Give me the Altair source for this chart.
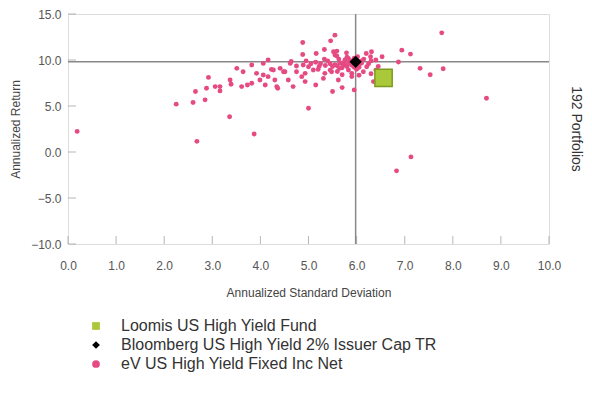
import altair as alt
import pandas as pd

# ---- data ----
series_names = ["Loomis US High Yield Fund",
                "Bloomberg US High Yield 2% Issuer Cap TR",
                "eV US High Yield Fixed Inc Net"]
series_colors = ["#a9c93a", "#000000", "#e64a82"]
series_shapes = ["square", "diamond", "circle"]

fund_sd = [6.56]
fund_ret = [8.05]
bench_sd = [5.98]
bench_ret = [9.8]

peer_sd = [0.19, 2.68, 3.87, 3.36, 5.0, 6.83, 7.13, 8.7, 7.77, 6.94, 7.12, 6.87, 7.32, 7.53, 7.8,
           5.95, 5.5, 5.7, 5.15, 5.55, 5.46, 4.88, 6.53, 6.31, 6.2, 6.29, 5.59, 5.55, 6.49, 6.35,
           6.14, 6.21, 2.25, 2.6, 2.85, 2.65, 2.88, 2.92, 3.06, 3.16, 3.16, 3.37, 3.39, 3.51, 3.64,
           3.61, 3.73, 3.82, 3.82, 3.92, 3.99, 4.06, 4.1, 4.06, 4.16, 4.23, 4.41, 4.51, 4.3, 4.16,
           4.58, 4.36, 4.68, 4.64, 4.75, 4.89, 5.0, 5.1, 5.2, 5.34, 5.48, 5.65, 5.76, 5.83, 4.86,
           5.31, 5.62, 4.93, 5.9, 5.86, 5.76, 5.83, 4.88, 5.16, 5.33, 5.52, 5.79, 5.59, 5.33, 5.63,
           4.27, 4.48, 4.62, 4.75, 4.93, 4.34,
           5.7, 5.8, 5.9, 6.05, 6.1, 6.15, 5.95, 6.0, 5.85, 5.75, 5.65, 5.55, 5.5, 5.45, 5.4, 5.6,
           5.7, 6.05, 6.25, 6.3, 6.4, 6.1, 5.9, 5.95, 6.02, 5.8, 5.35, 5.25, 5.15, 5.05, 4.95, 5.22,
           6.45, 6.4, 6.3, 6.05, 5.9, 5.7, 5.6, 5.45]
peer_ret = [2.24, 1.16, 1.95, 3.83, 4.75, -2.05, -0.53, 5.84, 12.95, 11.07, 10.64, 9.78, 9.09, 8.4, 9.05,
            6.75, 6.57, 7.0, 7.29, 12.7, 12.08, 11.9, 10.35, 10.9, 10.7, 10.35, 10.97, 10.53, 8.19, 7.65,
            8.73, 9.27, 5.2, 5.38, 5.67, 6.57, 6.93, 8.11, 7.11, 7.11, 6.64, 7.83, 7.36, 9.09, 8.73,
            7.11, 7.29, 7.47, 9.45, 8.55, 7.83, 8.37, 7.29, 9.63, 10.0, 8.98, 9.09, 8.73, 7.83, 8.19,
            7.83, 6.93, 7.11, 9.84, 9.35, 9.45, 9.27, 8.91, 8.98, 8.55, 8.73, 9.09, 9.45, 8.91, 8.19,
            8.0, 7.83, 7.65, 8.55, 9.63, 10.0, 10.17, 10.6, 10.71, 11.14, 10.89, 10.78, 10.43, 10.1, 10.1,
            8.91, 8.73, 9.63, 8.73, 8.55, 7.11,
            9.6, 9.3, 9.9, 9.5, 9.9, 10.1, 9.2, 9.0, 9.75, 9.85, 9.7, 9.5, 9.3, 9.6, 9.9, 9.35,
            9.15, 9.2, 9.6, 9.9, 10.0, 9.65, 9.45, 10.2, 10.35, 10.3, 9.4, 9.6, 9.75, 9.6, 9.9, 9.3,
            9.3, 8.9, 8.5, 8.35, 8.2, 8.4, 8.75, 8.9]

x_ticks = [0, 1, 2, 3, 4, 5, 6, 7, 8, 9, 10]
y_ticks = [-10, -5, 0, 5, 10, 15]
universe_label = ["192 Portfolios"]

W, H = 481, 230
FONT = "Liberation Sans"

peer_df = pd.DataFrame({"sd": peer_sd, "ret": peer_ret, "series": series_names[2]})
fund_df = pd.DataFrame({"sd": fund_sd, "ret": fund_ret, "series": series_names[0]})
bench_df = pd.DataFrame({"sd": bench_sd, "ret": bench_ret, "series": series_names[1]})

xscale = alt.Scale(domain=[0, 10], nice=False, zero=False)
yscale = alt.Scale(domain=[-10, 15], nice=False, zero=False)

xaxis = alt.Axis(values=x_ticks, format=".1f", title="Annualized Standard Deviation",
                 ticks=False, domain=False, grid=False, labelPadding=16, labelFlush=False,
                 labelFontSize=12, labelColor="#555", labelFont=FONT,
                 titleFontSize=12, titleColor="#444", titleFont=FONT, titleFontWeight="normal",
                 titlePadding=16)
yaxis = alt.Axis(values=y_ticks, format=".1f", title="Annualized Return",
                 ticks=False, domain=False, grid=False, labelPadding=7, labelFlush=False,
                 labelFontSize=12, labelColor="#555", labelFont=FONT,
                 titleFontSize=12, titleColor="#444", titleFont=FONT, titleFontWeight="normal",
                 titlePadding=8)

legend = alt.Legend(orient="none", legendX=20, legendY=304, title=None,
                    labelFontSize=16, labelFont=FONT, labelColor="#333", labelLimit=600,
                    symbolSize=60, rowPadding=3, labelOffset=17, symbolStrokeWidth=0)

color_enc = alt.Color("series:N", scale=alt.Scale(domain=series_names, range=series_colors), legend=legend)
shape_enc = alt.Shape("series:N", scale=alt.Scale(domain=series_names, range=series_shapes), legend=legend)

peers = alt.Chart(peer_df).mark_point(filled=True, size=24, opacity=1).encode(
    x=alt.X("sd:Q", scale=xscale, axis=xaxis),
    y=alt.Y("ret:Q", scale=yscale, axis=yaxis),
    color=color_enc, shape=shape_enc)

hrule = alt.Chart(bench_df).mark_rule(color="#888", strokeWidth=1.5).encode(
    y=alt.Y("ret:Q", scale=yscale))
vrule = alt.Chart(bench_df).mark_rule(color="#888", strokeWidth=1.5).encode(
    x=alt.X("sd:Q", scale=xscale))

fund = alt.Chart(fund_df).mark_point(filled=True, size=300, opacity=1,
                                     stroke="#7f9a22", strokeWidth=1.5).encode(
    x=alt.X("sd:Q", scale=xscale), y=alt.Y("ret:Q", scale=yscale),
    color=color_enc, shape=shape_enc)

bench = alt.Chart(bench_df).mark_point(filled=True, size=150, opacity=1).encode(
    x=alt.X("sd:Q", scale=xscale), y=alt.Y("ret:Q", scale=yscale),
    color=color_enc, shape=shape_enc)

ytick_marks = alt.Chart(pd.DataFrame({"v": y_ticks})).mark_tick(
    color="#999", size=8, thickness=1, orient="horizontal").encode(
    y=alt.Y("v:Q", scale=yscale), x=alt.value(4))
xtick_marks = alt.Chart(pd.DataFrame({"v": x_ticks})).mark_tick(
    color="#999", size=8, thickness=1, orient="vertical").encode(
    x=alt.X("v:Q", scale=xscale), y=alt.value(H - 4))

side = alt.Chart(pd.DataFrame({"t": universe_label})).mark_text(
    angle=90, fontSize=14, font=FONT, color="#333", baseline="middle", align="center").encode(
    x=alt.value(W + 27), y=alt.value(H / 2), text="t:N")

chart = alt.layer(ytick_marks, xtick_marks, hrule, vrule, peers, fund, bench, side).properties(
    width=W, height=H,
    autosize=alt.AutoSizeParams(type="none"),
    padding={"left": 60, "top": 6, "right": 35, "bottom": 150},
).configure_view(stroke="#aaaaaa", strokeWidth=2).configure(background="white")

chart.save("out.html", embed_options={"renderer": "svg", "actions": False})
